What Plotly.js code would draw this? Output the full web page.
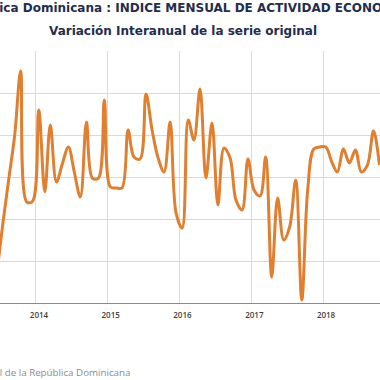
<!DOCTYPE html>
<html>
<head>
<meta charset="utf-8">
<script src="https://cdn.plot.ly/plotly-3.0.1.min.js"></script>
<style>html,body{margin:0;padding:0;background:#fff;}#chart{width:380px;height:380px;}</style>
</head>
<body>
<div id="chart"></div>
<script>
// Monthly dates (mid-month) and interannual variation (%)
const months = [
  "2013-06","2013-07","2013-08","2013-09","2013-10","2013-11","2013-12",
  "2014-01","2014-02","2014-03","2014-04","2014-05","2014-06","2014-07","2014-08","2014-09","2014-10","2014-11","2014-12",
  "2015-01","2015-02","2015-03","2015-04","2015-05","2015-06","2015-07","2015-08","2015-09","2015-10","2015-11","2015-12",
  "2016-01","2016-02","2016-03","2016-04","2016-05","2016-06","2016-07","2016-08","2016-09","2016-10","2016-11","2016-12",
  "2017-01","2017-02","2017-03","2017-04","2017-05","2017-06","2017-07","2017-08","2017-09","2017-10","2017-11","2017-12",
  "2018-01","2018-02","2018-03","2018-04","2018-05","2018-06","2018-07","2018-08","2018-09","2018-10"
];
const variacion = [
  1.33, 3.67, 5.86, 8.00, 11.05, 4.81, 4.85,
  9.19, 5.29, 8.48, 5.76, 6.62, 7.43, 6.24, 5.05, 8.62, 5.95, 5.95, 9.67,
  5.52, 5.48, 5.48, 8.24, 6.95, 6.86, 9.95, 8.24, 6.90, 6.24, 8.62, 4.29,
  3.57, 8.71, 7.76, 10.19, 5.95, 8.57, 4.67, 7.38, 6.90, 4.90, 4.43, 6.86,
  5.38, 5.10, 6.95, 1.24, 5.00, 3.00, 3.62, 5.86, 0.14, 5.38, 7.33, 7.43,
  7.43, 6.71, 6.24, 7.33, 6.67, 7.29, 6.24, 6.57, 8.19, 6.57, 6.33
];
const yearTicks = ["2014-01-01","2015-01-01","2016-01-01","2017-01-01","2018-01-01"];
const yearLabels = ["2014","2015","2016","2017","2018"];
const titleLine1 = "República Dominicana : INDICE MENSUAL DE ACTIVIDAD ECONOMICA";
const titleLine2 = "Variación Interanual de la serie original";
const sourceText = "Fuente: Banco Central de la República Dominicana";

const xDates = months.map(m => m + "-15");

const trace = {
  x: xDates,
  y: variacion,
  type: "scatter",
  mode: "lines",
  line: {color: "#e07f30", width: 3, shape: "spline", smoothing: 1},
  hoverinfo: "skip"
};

const titleFont = {family: "DejaVu Sans, sans-serif", size: 12, color: "#1f2d4e", weight: 700};

const layout = {
  width: 380, height: 380,
  margin: {l: 0, r: 0, t: 51, b: 77, pad: 0},
  paper_bgcolor: "#ffffff",
  plot_bgcolor: "#ffffff",
  showlegend: false,
  xaxis: {
    type: "date",
    range: ["2013-07-02", "2018-10-18"],
    tickmode: "array",
    tickvals: yearTicks,
    ticktext: yearLabels,
    ticks: "",
    ticklabelshift: 3,
    ticklabelstandoff: 4,
    tickfont: {family: "Open Sans, sans-serif", size: 8, color: "#404040", weight: 600},
    showgrid: true,
    gridcolor: "#d9d9d9",
    gridwidth: 1,
    showline: true,
    linecolor: "#8c8c8c",
    linewidth: 1,
    zeroline: false,
    fixedrange: true
  },
  yaxis: {
    range: [0, 12],
    dtick: 2,
    tick0: 0,
    showticklabels: false,
    ticks: "",
    showgrid: true,
    gridcolor: "#d9d9d9",
    gridwidth: 1,
    zeroline: false,
    showline: false,
    fixedrange: true
  },
  annotations: [
    {text: titleLine1, xref: "paper", yref: "paper", x: 185/380, y: (303 - 8)/252,
     xanchor: "center", yanchor: "middle", showarrow: false, font: titleFont},
    {text: titleLine2, xref: "paper", yref: "paper", x: 183/380, y: (303 - 31)/252,
     xanchor: "center", yanchor: "middle", showarrow: false, font: titleFont},
    {text: sourceText, xref: "paper", yref: "paper", x: 132/380, y: (303 - 372)/252,
     xanchor: "right", yanchor: "middle", showarrow: false,
     font: {family: "Open Sans, sans-serif", size: 9.75, color: "#8c8c8c"}}
  ]
};

Plotly.newPlot("chart", [trace], layout, {displayModeBar: false, staticPlot: true});
</script>
</body>
</html>
